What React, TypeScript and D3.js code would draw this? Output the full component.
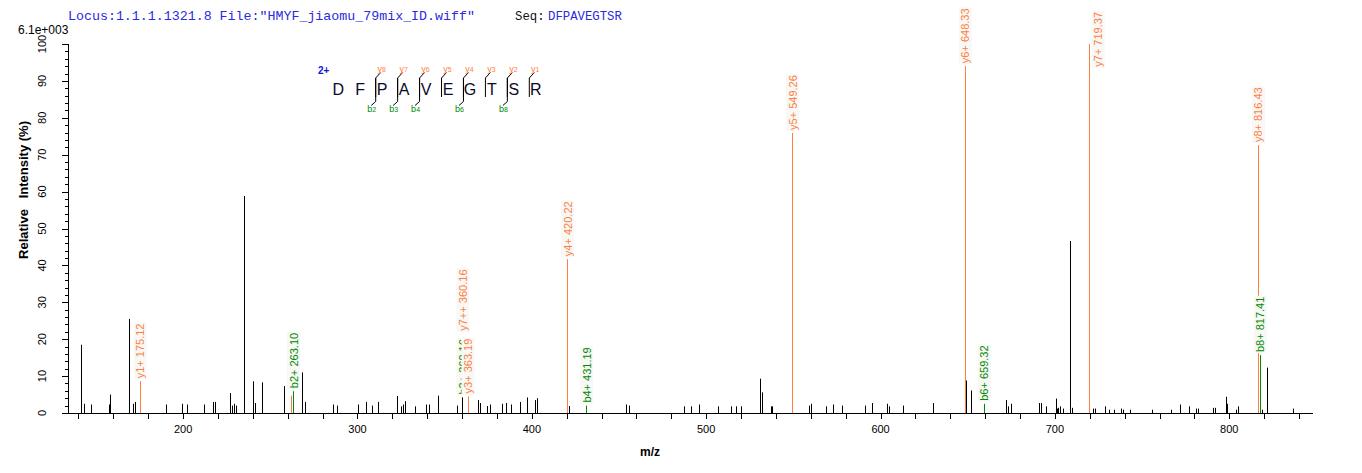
import React from "react";
import * as d3 from "d3";

// unmatched peaks (m/z, relative intensity %)
const peakMz = [
  141.5, 143.2, 147.2, 157.4, 158.1, 169.0, 171.3, 172.5, 190.3, 199.4,
  202.3, 212.0, 217.2, 218.2, 226.9, 228.1, 229.2, 230.4, 235.0, 240.1,
  241.3, 245.3, 257.9, 268.2, 270.0, 286.0, 288.1, 300.3, 304.9, 308.4,
  311.5, 322.4, 325.0, 326.1, 327.3, 333.0, 339.4, 341.1, 346.2, 357.1,
  360.0, 369.4, 370.3, 374.5, 376.0, 382.9, 385.2, 388.1, 393.2, 397.2,
  401.8, 403.0, 421.3, 454.0, 455.6, 487.3, 491.3, 495.9, 506.8, 514.2,
  517.1, 519.9, 530.8, 532.0, 537.2, 537.7, 558.9, 560.1, 568.9, 572.9,
  578.1, 591.1, 595.3, 603.7, 604.8, 612.8, 630.0, 649.0, 651.8, 671.9,
  673.0, 674.8, 690.8, 692.0, 694.8, 700.6, 701.2, 702.0, 702.9, 704.6,
  708.6, 709.7, 721.8, 722.9, 728.7, 731.0, 733.9, 737.8, 739.0, 743.0,
  755.6, 766.5, 771.7, 776.8, 780.8, 782.0, 790.6, 791.7, 797.9, 798.5,
  803.9, 804.9, 818.7, 821.6, 836.5,
];
const peakIntensity = [
  18.5, 2.5, 2.3, 2.3, 5.0, 25.5, 2.5, 3.0, 2.3, 2.5,
  2.3, 2.3, 3.0, 3.0, 5.4, 2.0, 2.5, 2.0, 58.8, 8.6,
  2.7, 8.3, 7.3, 11.0, 3.0, 2.3, 2.0, 2.3, 3.0, 2.0,
  3.0, 4.6, 1.8, 2.3, 3.2, 1.8, 2.3, 2.3, 4.7, 2.0,
  4.2, 3.5, 2.7, 1.9, 2.3, 2.5, 2.7, 2.3, 3.0, 4.2,
  3.5, 4.0, 1.9, 2.3, 2.0, 1.8, 1.8, 2.3, 1.8, 1.8,
  1.8, 1.8, 9.3, 5.6, 1.8, 1.8, 2.0, 2.5, 1.8, 2.3,
  2.0, 2.0, 2.7, 2.5, 1.8, 2.0, 2.7, 8.8, 6.1, 3.5,
  1.8, 2.5, 2.7, 2.7, 1.8, 3.9, 1.2, 1.4, 1.8, 1.2,
  46.6, 1.4, 1.2, 1.2, 1.8, 0.9, 0.9, 1.2, 0.9, 0.9,
  0.9, 0.9, 2.3, 1.8, 1.2, 1.2, 1.4, 1.4, 4.4, 2.5,
  0.9, 1.8, 0.9, 12.3, 1.2,
];

// matched fragment ions
const ionMz = [175.12, 262.13, 263.1, 360.16, 360.16, 363.19, 420.22, 431.19, 549.26, 648.33, 659.32, 719.37, 816.43, 817.41];
const ionIntensity = [8.6, 4.7, 5.9, 4.2, 4.2, 4.5, 41.7, 2.0, 75.9, 94.0, 2.5, 100, 72.6, 15.7];
const ionLabel = [
  "y1+ 175.12", "", "b2+ 263.10", "b3+ 360.16", "y7++ 360.16", "y3+ 363.19", "y4+ 420.22",
  "b4+ 431.19", "y5+ 549.26", "y6+ 648.33", "b6+ 659.32", "y7+ 719.37", "y8+ 816.43", "b8+ 817.41",
];
const ionType = ["y", "y", "b", "b", "y", "y", "y", "b", "y", "y", "b", "y", "y", "b"];

const sequence = ["D", "F", "P", "A", "V", "E", "G", "T", "S", "R"];
const yFound = [1, 2, 3, 4, 5, 6, 7, 8];
const bFound = [2, 3, 4, 6, 8];

const xTicks = d3.range(140, 841, 20);
const xLabels = [200, 300, 400, 500, 600, 700, 800];
const yTicks = d3.range(0, 101, 2);
const yLabels = d3.range(0, 101, 10);

const ORANGE = "#ff7f40";
const GREEN = "#008a00";
const SANS = "'Liberation Sans', Arial, sans-serif";
const MONO = "'Liberation Mono', 'Courier New', monospace";

let ctx: CanvasRenderingContext2D | null = null;
function textWidth(s: string) {
  if (!ctx) ctx = document.createElement("canvas").getContext("2d");
  if (!ctx) return s.length * 6;
  ctx.font = `11px ${SANS}`;
  return ctx.measureText(s).width;
}

export default function App() {
  const width = 1362;
  const height = 473;

  const x = d3.scaleLinear().domain([134, 848]).range([68, 1313]);
  const y = d3.scaleLinear().domain([0, 100]).range([413, 44]);
  const seqX = d3.scaleLinear().domain([0, 9]).range([338.3, 535.8]);

  const ions = ionMz.map((mz, i) => ({
    mz,
    v: ionIntensity[i],
    label: ionLabel[i],
    type: ionType[i],
  }));

  // place labels, pushing y-ion labels up when they collide
  const placed: { x: number; top: number; bottom: number }[] = [];
  const labels = ions
    .filter((d) => d.label)
    .map((d) => ({ ...d, len: textWidth(d.label), lx: x(d.mz), bottom: 0 }));
  const order = [...labels].sort((a, b) => b.v - a.v);
  order.forEach((d) => {
    let bottom = y(d.v) - 3;
    if (d.type === "y") {
      let moved = true;
      while (moved) {
        moved = false;
        for (const p of placed) {
          const top = bottom - d.len;
          if (Math.abs(p.x - d.lx) < 12 && top < p.bottom && bottom > p.top) {
            bottom = p.top - 8;
            moved = true;
          }
        }
      }
      placed.push({ x: d.lx, top: bottom - d.len, bottom });
    }
    // no room above the peak: put the label beside it
    if (bottom - d.len < 6) {
      d.lx += 9;
      bottom = 12 + d.len;
    }
    d.bottom = bottom;
  });
  // green labels go underneath
  const drawLabels = [...labels.filter((d) => d.type === "b"), ...labels.filter((d) => d.type === "y")];

  return (
    <svg
      width={width}
      height={height}
      style={{ position: "absolute", left: 0, top: 0, background: "#fff" }}
      fontFamily={SANS}
    >
      {/* header */}
      <text x={68} y={20} fontFamily={MONO} fontSize={13.3} fill="#2a2ae0" xmlSpace="preserve">
        {'Locus:1.1.1.1321.8 File:"HMYF_jiaomu_79mix_ID.wiff"'}
      </text>
      <text x={515} y={20} fontFamily={MONO} fontSize={12.3} fill="#111">Seq:</text>
      <text x={548} y={20} fontFamily={MONO} fontSize={12.3} fill="#2a2ae0">DFPAVEGTSR</text>
      <text x={18} y={34} fontSize={12} fill="#000">6.1e+003</text>

      {/* ion lines */}
      {ions.map((d, i) => (
        <line
          key={"ion" + i}
          x1={Math.round(x(d.mz)) + 0.5}
          x2={Math.round(x(d.mz)) + 0.5}
          y1={y(0)}
          y2={y(d.v)}
          stroke={d.type === "y" ? ORANGE : GREEN}
          strokeWidth={1}
        />
      ))}

      {/* raw peaks */}
      {peakMz.map((mz, i) => (
        <line
          key={"p" + i}
          x1={Math.round(x(mz)) + 0.5}
          x2={Math.round(x(mz)) + 0.5}
          y1={y(0)}
          y2={y(peakIntensity[i])}
          stroke="#000"
          strokeWidth={1}
        />
      ))}

      {/* peak labels */}
      {drawLabels.map((d, i) => (
        <g key={"l" + i}>
          <rect x={d.lx - 6} y={d.bottom - d.len - 1} width={13} height={d.len + 2} fill="#f8f8f6" />
          <text
            transform={`translate(${d.lx + 4.5},${d.bottom}) rotate(-90)`}
            fontSize={11}
            fill={d.type === "y" ? ORANGE : GREEN}
          >
            {d.label}
          </text>
        </g>
      ))}

      {/* x axis */}
      <line x1={68} x2={1313} y1={413.5} y2={413.5} stroke="#000" />
      {xTicks.map((t) => (
        <line key={"xt" + t} x1={Math.round(x(t)) + 0.5} x2={Math.round(x(t)) + 0.5} y1={413} y2={419} stroke="#000" />
      ))}
      {xLabels.map((t) => (
        <text key={"xl" + t} x={x(t)} y={433} fontSize={11} textAnchor="middle" fill="#000">
          {t}
        </text>
      ))}
      <text x={650} y={456} fontSize={12} fontWeight="bold" textAnchor="middle">m/z</text>

      {/* y axis */}
      <line x1={68.5} x2={68.5} y1={y(100)} y2={y(0)} stroke="#000" />
      {yTicks.map((t) => (
        <line
          key={"yt" + t}
          x1={t % 10 === 0 ? 62 : 65}
          x2={68}
          y1={Math.round(y(t)) + 0.5}
          y2={Math.round(y(t)) + 0.5}
          stroke="#000"
        />
      ))}
      {yLabels.map((t) => (
        <text
          key={"yl" + t}
          transform={`translate(46,${y(t)}) rotate(-90)`}
          fontSize={11}
          textAnchor="middle"
          fill="#000"
        >
          {t}
        </text>
      ))}
      <text
        transform="translate(28,190) rotate(-90)"
        fontSize={13}
        fontWeight="bold"
        textAnchor="middle"
        xmlSpace="preserve"
        style={{ whiteSpace: "pre" }}
      >
        {"Relative   Intensity (%)"}
      </text>

      {/* sequence coverage */}
      <text x={318} y={74} fontSize={10} fontWeight="bold" fill="#1010e0">2+</text>
      {sequence.map((s, i) => (
        <text key={"s" + i} x={seqX(i)} y={94.5} fontSize={16} textAnchor="middle" fill="#0a0a2a">
          {s}
        </text>
      ))}
      {yFound.map((k) => {
        const lx = seqX(sequence.length - k) - 6.5;
        return (
          <g key={"yf" + k}>
            <line x1={lx} x2={lx} y1={78} y2={97} stroke="#000" />
            <line x1={lx} x2={lx + 5} y1={78} y2={72.5} stroke="#000" />
            <text x={lx + 6} y={72} fontSize={9} textAnchor="middle" fill={ORANGE}>
              y<tspan fontSize={7}>{k}</tspan>
            </text>
          </g>
        );
      })}
      {bFound.map((k) => {
        const lx = seqX(k) - 6.5;
        return (
          <g key={"bf" + k}>
            <line x1={lx} x2={lx} y1={78} y2={101.5} stroke="#000" />
            <line x1={lx} x2={lx - 4.5} y1={101.5} y2={105.5} stroke="#000" />
            <text x={lx - 4} y={111.5} fontSize={9} textAnchor="middle" fill={GREEN}>
              b<tspan fontSize={7}>{k}</tspan>
            </text>
          </g>
        );
      })}
    </svg>
  );
}
